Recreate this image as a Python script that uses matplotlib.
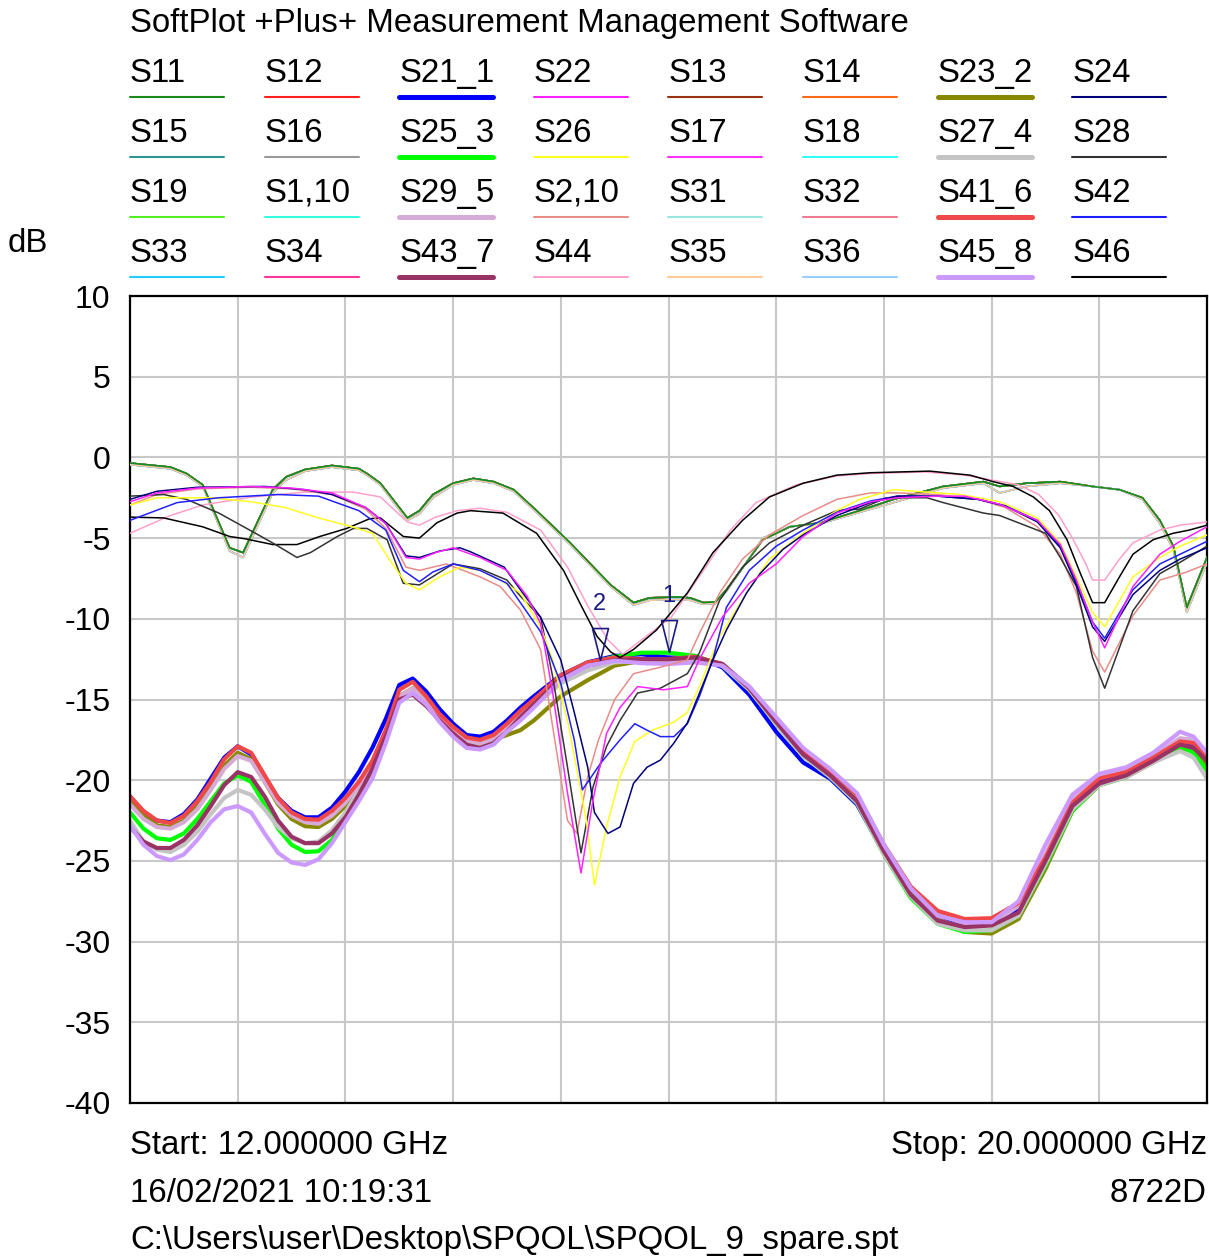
import numpy as np
import matplotlib
matplotlib.use('Agg')
import matplotlib.pyplot as plt
from matplotlib.lines import Line2D

plt.rcParams['font.family'] = ['Liberation Sans', 'DejaVu Sans']

############# Data (GHz, dB) #############

# thick traces (S21_1 ... S45_8), common grid
freq_il = [12.0, 12.1, 12.2, 12.3, 12.4, 12.5, 12.6, 12.7, 12.8, 12.9,
           13.0, 13.1, 13.2, 13.3, 13.4, 13.5, 13.6, 13.7, 13.8, 13.9,
           14.0, 14.1, 14.2, 14.3, 14.4, 14.5, 14.6, 14.7, 14.8, 14.9,
           15.0, 15.2, 15.4, 15.6, 15.8, 16.0, 16.2, 16.4, 16.6, 16.8,
           17.0, 17.2, 17.4, 17.6, 17.8, 18.0, 18.2, 18.4, 18.6, 18.8,
           19.0, 19.2, 19.4, 19.6, 19.8, 19.9, 20.0]

db_s21_1 = [-21.0, -22.0, -22.5, -22.6, -22.1, -21.2, -19.9, -18.6, -17.9, -18.4,
            -19.8, -21.1, -21.9, -22.3, -22.3, -21.7, -20.7, -19.5, -18.0, -16.2,
            -14.1, -13.7, -14.5, -15.6, -16.5, -17.2, -17.3, -17.0, -16.3, -15.5,
            -14.8, -13.5, -12.7, -12.3, -12.2, -12.4, -12.4, -13.0, -14.7, -17.0,
            -18.9, -19.9, -21.5, -24.5, -27.0, -28.4, -28.9, -28.9, -28.0, -25.0,
            -21.4, -20.0, -19.6, -18.7, -17.7, -17.9, -19.3]
db_s23_2 = [-21.3, -22.2, -22.8, -22.9, -22.5, -21.6, -20.4, -19.1, -18.3, -18.7,
            -20.1, -21.5, -22.4, -22.85, -22.9, -22.4, -21.6, -20.5, -19.1, -17.2,
            -14.8, -14.3, -15.1, -16.1, -16.9, -17.5, -17.7, -17.5, -17.2, -16.9,
            -16.3, -14.8, -13.8, -12.9, -12.6, -12.5, -12.4, -12.9, -14.3, -16.4,
            -18.4, -19.7, -21.2, -24.4, -27.0, -28.6, -29.4, -29.5, -28.6, -25.5,
            -21.9, -20.3, -19.8, -18.9, -18.0, -18.2, -19.0]
db_s25_3 = [-22.0, -23.0, -23.6, -23.7, -23.3, -22.4, -21.3, -20.2, -19.7, -20.1,
            -21.5, -23.0, -24.0, -24.45, -24.4, -23.7, -22.5, -21.0, -19.2, -17.2,
            -15.0, -14.6, -15.3, -16.3, -17.1, -17.8, -18.0, -17.7, -17.0, -16.1,
            -15.3, -13.7, -12.8, -12.35, -12.1, -12.1, -12.3, -12.9, -14.4, -16.5,
            -18.5, -19.8, -21.4, -24.6, -27.3, -28.9, -29.4, -29.3, -28.4, -25.3,
            -21.9, -20.3, -19.8, -18.8, -17.9, -18.3, -19.4]
db_s27_4 = [-22.5, -23.8, -24.3, -24.45, -24.0, -23.2, -22.1, -21.1, -20.6, -20.9,
            -21.8, -22.9, -23.6, -23.9, -23.8, -23.1, -22.0, -20.6, -18.9, -16.9,
            -14.8, -14.5, -15.2, -16.2, -17.0, -17.7, -17.9, -17.6, -16.9, -16.1,
            -15.4, -14.0, -13.2, -12.7, -12.6, -12.6, -12.5, -12.9, -14.4, -16.5,
            -18.5, -19.8, -21.4, -24.6, -27.2, -28.9, -29.3, -29.3, -28.4, -25.2,
            -21.8, -20.3, -19.8, -18.9, -18.2, -18.6, -19.9]
db_s29_5 = [-21.5, -22.4, -22.9, -23.0, -22.6, -21.8, -20.6, -19.3, -18.5, -18.8,
            -20.1, -21.4, -22.2, -22.6, -22.7, -22.2, -21.4, -20.3, -18.9, -17.0,
            -14.8, -14.3, -15.1, -16.1, -16.9, -17.5, -17.7, -17.4, -16.7, -15.9,
            -15.2, -13.8, -12.9, -12.6, -12.6, -12.6, -12.5, -12.8, -14.2, -16.2,
            -18.1, -19.4, -20.9, -24.0, -26.7, -28.3, -28.9, -28.9, -27.8, -24.6,
            -21.2, -19.8, -19.4, -18.5, -17.4, -17.5, -18.4]
db_s41_6 = [-21.0, -21.9, -22.5, -22.65, -22.2, -21.3, -20.1, -18.7, -17.9, -18.3,
            -19.7, -21.1, -22.0, -22.4, -22.45, -21.9, -21.1, -20.1, -18.8, -16.9,
            -14.4, -13.9, -14.8, -15.9, -16.7, -17.35, -17.5, -17.2, -16.5, -15.7,
            -15.0, -13.5, -12.7, -12.4, -12.5, -12.5, -12.35, -12.8, -14.3, -16.3,
            -18.2, -19.4, -20.9, -24.0, -26.6, -28.1, -28.6, -28.55, -27.6, -24.8,
            -21.4, -19.9, -19.5, -18.6, -17.6, -17.7, -18.7]
db_s43_7 = [-22.9, -23.8, -24.2, -24.2, -23.7, -22.8, -21.6, -20.3, -19.5, -19.8,
            -21.0, -22.5, -23.5, -23.9, -23.9, -23.3, -22.3, -20.9, -19.3, -17.3,
            -15.0, -14.7, -15.4, -16.3, -17.1, -17.8, -18.0, -17.7, -17.0, -16.1,
            -15.3, -13.7, -12.9, -12.55, -12.5, -12.5, -12.4, -12.8, -14.3, -16.4,
            -18.4, -19.7, -21.3, -24.4, -27.1, -28.7, -29.1, -29.0, -28.2, -25.0,
            -21.6, -20.2, -19.7, -18.8, -17.8, -18.0, -18.8]
db_s45_8 = [-22.8, -24.0, -24.7, -24.95, -24.6, -23.7, -22.6, -21.8, -21.6, -22.0,
            -23.3, -24.5, -25.1, -25.25, -24.9, -23.9, -22.6, -21.3, -19.9, -17.7,
            -15.2, -14.6, -15.3, -16.4, -17.3, -18.0, -18.1, -17.8, -17.0, -16.3,
            -15.5, -13.8, -12.9, -12.6, -12.75, -12.8, -12.7, -12.9, -14.2, -16.1,
            -18.0, -19.3, -20.8, -24.0, -26.7, -28.4, -28.8, -28.8, -27.5, -24.0,
            -20.9, -19.6, -19.2, -18.3, -17.0, -17.3, -18.3]

# thin traces, group with the dip at 12.8 GHz
freq_grp = [12.0, 12.3, 12.42, 12.54, 12.74, 12.84, 13.06, 13.16, 13.3, 13.5,
            13.7, 13.76, 13.86, 14.06, 14.15, 14.25, 14.4, 14.55, 14.7, 14.85,
            15.02, 15.27, 15.57, 15.74, 15.86, 16.06, 16.16, 16.26, 16.35, 16.43,
            16.58, 16.7, 16.9, 17.13, 17.42, 17.67, 18.04, 18.34, 18.46, 18.66,
            18.91, 19.15, 19.35, 19.52, 19.65, 19.75, 19.85, 20.0]
db_grp_a = [-0.35, -0.6, -1.0, -1.7, -5.6, -5.9, -2.0, -1.2, -0.75, -0.5,
            -0.7, -1.0, -1.6, -3.75, -3.3, -2.3, -1.6, -1.3, -1.5, -2.0,
            -3.3, -5.3, -7.9, -9.0, -8.7, -8.65, -8.7, -9.0, -8.95, -8.2,
            -6.5, -5.1, -4.3, -4.05, -3.3, -2.6, -1.8, -1.5, -1.8, -1.6,
            -1.5, -1.8, -2.0, -2.5, -3.9, -5.5, -9.3, -6.2]
db_grp_b = [-0.45, -0.7, -1.1, -1.8, -5.8, -6.2, -2.2, -1.4, -0.85, -0.6,
            -0.8, -1.1, -1.7, -3.9, -3.5, -2.5, -1.7, -1.4, -1.6, -2.1,
            -3.4, -5.4, -8.0, -9.15, -8.85, -8.8, -8.85, -9.1, -9.05, -8.3,
            -6.5, -5.0, -4.3, -4.1, -3.4, -2.8, -1.9, -1.6, -2.2, -1.8,
            -1.6, -1.8, -2.0, -2.6, -4.1, -5.7, -9.6, -6.5]

freq_s22 = [12.0, 12.2, 12.5, 12.9, 13.2, 13.5, 13.75, 13.9, 14.05, 14.15,
            14.27, 14.4, 14.6, 14.8, 14.95, 15.05, 15.14, 15.25, 15.35, 15.44,
            15.54, 15.64, 15.77, 15.96, 16.14, 16.23, 16.4, 16.6, 16.8, 17.0,
            17.25, 17.5, 17.7, 18.0, 18.2, 18.46, 18.74, 18.91, 19.03, 19.15,
            19.24, 19.45, 19.65, 19.8, 20.0]
db_s22 = [-2.75, -2.2, -1.9, -1.8, -1.9, -2.2, -3.1, -4.1, -6.2, -6.3,
          -5.9, -5.6, -6.2, -7.0, -8.6, -10.3, -14.6, -20.8, -25.75, -21.2,
          -17.1, -15.5, -14.2, -14.4, -14.2, -12.5, -9.9, -7.8, -6.6, -4.9,
          -3.45, -2.75, -2.5, -2.4, -2.4, -2.9, -3.9, -5.4, -7.6, -10.2,
          -11.8, -8.0, -6.0, -5.2, -4.3]

freq_s24 = [12.0, 12.2, 12.5, 13.0, 13.3, 13.5, 13.75, 13.9, 14.05, 14.15,
            14.3, 14.45, 14.53, 14.78, 14.9, 15.05, 15.2, 15.3, 15.4, 15.45,
            15.55, 15.64, 15.74, 15.84, 15.94, 16.04, 16.14, 16.23, 16.33, 16.43,
            16.58, 16.68, 16.85, 17.0, 17.25, 17.5, 17.7, 18.0, 18.3, 18.5,
            18.74, 18.91, 19.03, 19.15, 19.24, 19.45, 19.65, 19.8, 20.0]
db_s24 = [-2.6, -2.1, -1.85, -1.8, -2.0, -2.3, -3.1, -4.1, -6.1, -6.2,
          -5.8, -5.6, -5.85, -6.8, -8.2, -9.9, -12.55, -15.8, -19.2, -22.0,
          -23.3, -22.9, -20.2, -19.2, -18.75, -17.7, -16.45, -14.6, -12.55, -10.7,
          -8.4, -7.2, -5.7, -4.8, -3.6, -2.8, -2.4, -2.4, -2.6, -3.0,
          -4.0, -5.6, -7.9, -10.5, -11.4, -8.5, -7.0, -6.3, -5.6]

freq_s42 = [12.0, 12.35, 12.66, 13.1, 13.4, 13.7, 13.9, 14.03, 14.15, 14.25,
            14.4, 14.6, 14.8, 14.9, 15.05, 15.2, 15.3, 15.36, 15.5, 15.64,
            15.75, 15.84, 15.94, 16.04, 16.14, 16.23, 16.33, 16.43, 16.6, 16.8,
            17.0, 17.25, 17.5, 17.7, 18.0, 18.3, 18.5, 18.74, 18.91, 19.03,
            19.15, 19.24, 19.45, 19.65, 19.8, 20.0]
db_s42 = [-3.9, -2.8, -2.5, -2.3, -2.4, -3.3, -4.5, -7.0, -7.7, -7.1,
          -6.6, -7.0, -7.8, -9.0, -10.8, -14.0, -17.5, -20.6, -18.9, -17.5,
          -16.5, -16.9, -17.3, -17.3, -16.5, -14.8, -12.5, -9.3, -7.0, -5.5,
          -4.5, -3.4, -2.7, -2.4, -2.4, -2.6, -3.0, -3.9, -5.5, -7.7,
          -10.2, -11.2, -8.2, -6.6, -6.0, -5.2]

freq_s26 = [12.0, 12.2, 12.6, 12.9, 13.15, 13.4, 13.65, 13.8, 13.95, 14.05,
            14.15, 14.3, 14.45, 14.6, 14.75, 14.9, 15.05, 15.14, 15.26, 15.39,
            15.45, 15.54, 15.64, 15.75, 15.88, 16.04, 16.14, 16.23, 16.38, 16.58,
            16.75, 17.0, 17.25, 17.42, 17.67, 18.17, 18.46, 18.74, 18.91, 19.03,
            19.15, 19.24, 19.45, 19.65, 19.8, 20.0]
db_s26 = [-2.95, -2.5, -2.5, -2.75, -3.1, -3.75, -4.3, -4.7, -6.6, -7.8,
          -8.2, -7.4, -6.8, -7.0, -7.6, -8.4, -10.5, -12.55, -16.7, -22.5,
          -26.5, -22.9, -19.8, -17.6, -16.9, -16.4, -15.8, -14.2, -11.1, -8.4,
          -6.3, -4.7, -3.3, -2.6, -2.0, -2.3, -2.75, -3.75, -5.3, -7.4,
          -9.6, -10.5, -7.4, -6.2, -5.5, -4.8]

freq_s28 = [12.0, 12.25, 12.42, 12.66, 12.91, 13.06, 13.24, 13.34, 13.54, 13.66,
            13.76, 13.91, 14.03, 14.15, 14.4, 14.6, 14.8, 14.9, 15.05, 15.14,
            15.25, 15.35, 15.44, 15.54, 15.64, 15.77, 15.94, 16.14, 16.23, 16.38,
            16.55, 16.75, 17.0, 17.25, 17.42, 17.62, 17.92, 18.04, 18.34, 18.46,
            18.8, 18.91, 19.03, 19.15, 19.24, 19.45, 19.65, 19.8, 20.0]
db_s28 = [-2.4, -2.3, -2.6, -3.45, -4.6, -5.3, -6.2, -5.9, -4.9, -4.4,
          -4.4, -5.1, -7.8, -7.9, -6.6, -6.9, -7.6, -8.6, -9.9, -13.6,
          -19.2, -24.5, -20.4, -17.9, -16.3, -14.6, -14.3, -13.4, -12.1, -8.85,
          -6.8, -5.3, -4.2, -3.3, -3.2, -2.5, -2.5, -2.8, -3.45, -3.6,
          -4.7, -6.2, -8.0, -12.4, -14.3, -9.5, -7.2, -6.5, -5.5]

freq_s2_10 = [12.0, 12.2, 12.5, 12.9, 13.2, 13.5, 13.75, 13.9, 14.05, 14.15,
              14.35, 14.6, 14.75, 14.9, 15.05, 15.14, 15.25, 15.32, 15.4, 15.48,
              15.6, 15.74, 15.94, 16.14, 16.23, 16.38, 16.55, 16.75, 17.0, 17.25,
              17.5, 17.7, 18.0, 18.3, 18.5, 18.74, 18.91, 19.03, 19.15, 19.24,
              19.45, 19.65, 19.85, 20.0]
db_s2_10 = [-2.95, -2.3, -1.95, -1.85, -1.95, -2.3, -3.2, -4.4, -6.8, -7.0,
            -6.6, -7.4, -8.0, -9.45, -11.9, -16.7, -22.5, -23.3, -19.8, -17.5,
            -15.0, -13.4, -13.0, -12.55, -10.9, -8.4, -6.3, -4.8, -3.6, -2.6,
            -2.2, -2.2, -2.3, -2.6, -3.1, -4.3, -6.0, -8.4, -12.0, -13.3,
            -9.8, -7.6, -7.1, -6.6]

freq_s46 = [12.0, 12.25, 12.54, 12.74, 12.86, 13.06, 13.24, 13.41, 13.61, 13.78,
            13.86, 14.03, 14.15, 14.28, 14.43, 14.53, 14.77, 15.02, 15.22, 15.34,
            15.47, 15.57, 15.64, 15.74, 15.91, 16.14, 16.33, 16.55, 16.75, 17.0,
            17.25, 17.5, 17.94, 18.24, 18.41, 18.56, 18.71, 18.83, 18.96, 19.06,
            19.15, 19.24, 19.35, 19.45, 19.6, 19.75, 19.87, 20.0]
db_s46 = [-3.7, -3.75, -4.3, -4.9, -5.05, -5.4, -5.4, -4.9, -4.4, -3.8,
          -3.75, -4.9, -5.0, -4.05, -3.45, -3.3, -3.45, -4.7, -7.0, -9.0,
          -11.1, -12.05, -12.4, -11.9, -10.7, -8.4, -5.9, -3.9, -2.45, -1.6,
          -1.1, -0.95, -0.85, -1.1, -1.5, -1.8, -2.45, -3.3, -5.1, -7.2,
          -9.0, -9.0, -7.4, -6.0, -5.1, -4.7, -4.5, -4.2]

freq_s44 = [12.0, 12.3, 12.54, 12.91, 13.3, 13.66, 13.86, 14.06, 14.15, 14.27,
            14.43, 14.6, 14.8, 15.05, 15.25, 15.4, 15.55, 15.66, 15.77, 16.02,
            16.26, 16.46, 16.65, 16.95, 17.25, 17.5, 17.9, 18.2, 18.4, 18.6,
            18.75, 18.9, 19.0, 19.1, 19.15, 19.24, 19.35, 19.45, 19.65, 19.8, 20.0]
db_s44 = [-4.7, -3.6, -2.95, -2.45, -2.15, -2.15, -2.45, -4.0, -4.2, -3.7,
          -3.3, -3.15, -3.4, -4.5, -6.8, -9.2, -11.3, -12.2, -11.5, -9.9,
          -7.0, -4.5, -2.8, -1.7, -1.15, -1.0, -0.9, -1.1, -1.4, -1.7,
          -2.3, -3.6, -5.0, -6.6, -7.6, -7.6, -6.3, -5.3, -4.5, -4.2, -4.0]

# markers 1 and 2
marker_freq = [16.0, 15.49]
marker_db = [-12.05, -12.55]
marker_text = ['1', '2']

# legend, in the order shown (4 rows x 8 columns)
legend_labels = ['S11', 'S12', 'S21_1', 'S22', 'S13', 'S14', 'S23_2', 'S24',
                 'S15', 'S16', 'S25_3', 'S26', 'S17', 'S18', 'S27_4', 'S28',
                 'S19', 'S1,10', 'S29_5', 'S2,10', 'S31', 'S32', 'S41_6', 'S42',
                 'S33', 'S34', 'S43_7', 'S44', 'S35', 'S36', 'S45_8', 'S46']
legend_colors = ['#1a8a1a', '#ff2020', '#0000ff', '#ff22ff', '#993311', '#ff6a1a', '#888800', '#00007a',
                 '#2e9494', '#999999', '#00ff00', '#ffff22', '#ff33ff', '#33ffff', '#c4c4c4', '#333333',
                 '#55ee22', '#33ffdd', '#d6aad6', '#e88c88', '#99e6e0', '#f07a90', '#f04848', '#2020ff',
                 '#22ccff', '#ff3399', '#993366', '#ffa0cc', '#ffcc99', '#99ccff', '#cc99ff', '#000000']

thick = ['S21_1', 'S23_2', 'S25_3', 'S27_4', 'S29_5', 'S41_6', 'S43_7', 'S45_8']

trace_data = {
    'S21_1': (freq_il, db_s21_1), 'S23_2': (freq_il, db_s23_2),
    'S25_3': (freq_il, db_s25_3), 'S27_4': (freq_il, db_s27_4),
    'S29_5': (freq_il, db_s29_5), 'S41_6': (freq_il, db_s41_6),
    'S43_7': (freq_il, db_s43_7), 'S45_8': (freq_il, db_s45_8),
    'S11': (freq_grp, db_grp_a), 'S12': (freq_grp, db_grp_a), 'S13': (freq_grp, db_grp_a),
    'S14': (freq_grp, db_grp_a), 'S15': (freq_grp, db_grp_a), 'S16': (freq_grp, db_grp_a),
    'S19': (freq_grp, db_grp_a), 'S32': (freq_grp, db_grp_a), 'S34': (freq_grp, db_grp_a),
    'S17': (freq_grp, db_grp_b), 'S18': (freq_grp, db_grp_b), 'S1,10': (freq_grp, db_grp_b),
    'S31': (freq_grp, db_grp_b), 'S33': (freq_grp, db_grp_b), 'S35': (freq_grp, db_grp_b),
    'S36': (freq_grp, db_grp_b),
    'S22': (freq_s22, db_s22), 'S24': (freq_s24, db_s24), 'S42': (freq_s42, db_s42),
    'S26': (freq_s26, db_s26), 'S28': (freq_s28, db_s28), 'S2,10': (freq_s2_10, db_s2_10),
    'S46': (freq_s46, db_s46), 'S44': (freq_s44, db_s44),
}

# thin traces are painted in this order (last on top)
thin_order = ['S12', 'S16', 'S32', 'S34', 'S13', 'S14', 'S1,10', 'S31', 'S36', 'S18',
              'S19', 'S15', 'S17', 'S33', 'S35', 'S11', 'S44', 'S46', 'S2,10', 'S28',
              'S26', 'S42', 'S24', 'S22']

############# Figure #############

W, H = 1209, 1260
fig = plt.figure(figsize=(W / 100, H / 100), dpi=100)
ax = fig.add_axes([130 / W, (H - 1103) / H, (1207 - 130) / W, (1103 - 296) / H])

ax.set_xlim(12, 20)
ax.set_ylim(-40, 10)
ax.set_xticks(np.linspace(12, 20, 11))
ax.set_xticklabels([])
ax.set_yticks(np.arange(-40, 11, 5))
ax.set_yticklabels([str(v) for v in range(-40, 11, 5)])
ax.tick_params(axis='both', length=0)
ax.tick_params(axis='y', labelsize=23, pad=14)
ax.grid(True, color='#c8c8c8', lw=1.5)
ax.set_axisbelow(True)
for s in ax.spines.values():
    s.set_color('black')
    s.set_linewidth(1.6)

color_of = dict(zip(legend_labels, legend_colors))

for lab in thick:
    f, d = trace_data[lab]
    ax.plot(f, d, color=color_of[lab], lw=3.0, solid_joinstyle='round', zorder=2)

for lab in thin_order:
    f, d = trace_data[lab]
    ax.plot(f, d, color=color_of[lab], lw=1.1, zorder=3)

# markers: hollow triangle, apex on the trace
tri = [(0, 0), (-1, 4), (1, 4), (0, 0)]
ax.plot(marker_freq, marker_db, ls='none', marker=tri, ms=46, mfc='none',
        mec='#1a1a80', mew=1.2, zorder=4)
for fx, dy, t in zip(marker_freq, marker_db, marker_text):
    ax.annotate(t, (fx, dy), xytext=(0, 36), textcoords='offset points',
                ha='center', va='baseline', fontsize=17, color='#1a1a80', zorder=5)

############# Header, legend and footer #############

def fy(py):
    return 1 - py / H

FS = 23.8
fig.text(130 / W, fy(32), 'SoftPlot +Plus+ Measurement Management Software',
         fontsize=FS, va='baseline', ha='left')
fig.text(8 / W, fy(252), 'dB', fontsize=FS, va='baseline', ha='left')

col_x = [130 + 134.6 * c for c in range(8)]
for i, lab in enumerate(legend_labels):
    r, c = divmod(i, 8)
    x0 = col_x[c]
    fig.text(x0 / W, fy(82 + 60 * r), lab, fontsize=FS, va='baseline', ha='left')
    lw = 3.6 if lab in thick else 1.5
    fig.add_artist(Line2D([x0 / W, (x0 + 94) / W], [fy(97 + 60 * r)] * 2,
                          color=color_of[lab], lw=lw, solid_capstyle='round'))

fig.text(130 / W, fy(1154), 'Start: 12.000000 GHz', fontsize=FS, va='baseline', ha='left')
fig.text(1207 / W, fy(1154), 'Stop: 20.000000 GHz', fontsize=FS, va='baseline', ha='right')
fig.text(130 / W, fy(1202), '16/02/2021 10:19:31', fontsize=FS, va='baseline', ha='left')
fig.text(1207 / W, fy(1202), '8722D', fontsize=FS, va='baseline', ha='right')
fig.text(130 / W, fy(1249), 'C:\\Users\\user\\Desktop\\SPQOL\\SPQOL_9_spare.spt',
         fontsize=FS, va='baseline', ha='left')

fig.savefig('out.png', dpi=100)
